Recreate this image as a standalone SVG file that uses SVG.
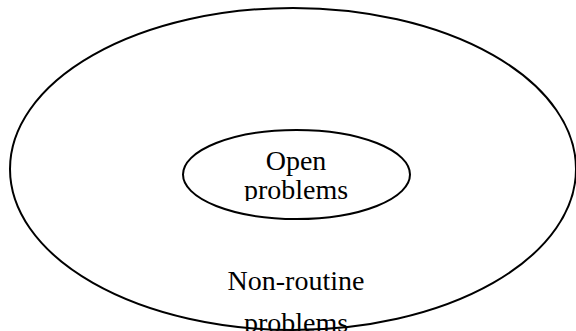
<svg xmlns="http://www.w3.org/2000/svg" width="576" height="331" viewBox="0 0 576 331">
<style>
.e{fill:none;stroke:#000;stroke-width:2}
.t{font-family:"Liberation Serif","Times New Roman",serif;font-size:28px;fill:#000;text-anchor:middle}
</style>
<defs>
<clipPath id="cin"><rect x="0" y="0" width="576" height="201"/></clipPath>
</defs>
<rect width="576" height="331" fill="#fff"/>
<g id="non-routine">
<ellipse class="e" cx="293" cy="169" rx="283" ry="161"/>
<text class="t" x="296" y="290">Non-routine</text>
<text class="t" x="296" y="332">problems</text>
</g>
<g id="open">
<ellipse class="e" cx="296.5" cy="174.5" rx="113.5" ry="44.5"/>
<text class="t" x="296" y="170">Open</text>
<text class="t" x="296" y="199" clip-path="url(#cin)">problems</text>
</g>
<g id="connectors"/>
</svg>
